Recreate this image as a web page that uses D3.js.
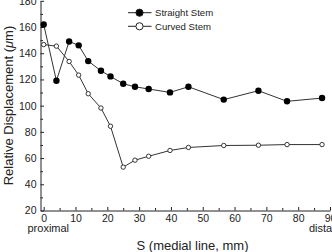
<!DOCTYPE html>
<html lang="en">
<head>
<meta charset="UTF-8">
<title>Relative displacement</title>
<script src="https://cdn.jsdelivr.net/npm/d3@7/dist/d3.min.js"></script>
<style>
    body { margin: 0; background: #fff; }
    svg { display: block; font-family: "Liberation Sans", Arial, sans-serif; }
    .axis path, .axis line { stroke: #222; }
    .axis text { font-size: 10.5px; fill: #222; }
</style>
</head>
<body>
<div id="chart"></div>
<script>
    "use strict";

    // medial line position (mm)
    var positions = [0, 4, 8, 11, 14, 18, 21, 25, 28.7, 33, 39.7, 45.5, 56.6, 67.5, 76.5, 87.5];
    var straightStem = [162, 119, 149, 146, 134, 126.6, 122.3, 116.7, 114.4, 112.7, 110.1, 114.4, 104.6, 111.4, 103.3, 105.8];
    var curvedStem = [146.6, 145.4, 133.7, 123.3, 109.1, 98.2, 84.3, 53.1, 58.4, 61.4, 65.8, 68.1, 69.6, 69.8, 70.3, 70.3];
    var seriesNames = ["Straight Stem", "Curved Stem"];
    var xTicks = [0, 10, 20, 30, 40, 50, 60, 70, 80, 90];
    var yTicks = [20, 40, 60, 80, 100, 120, 140, 160, 180];

    var width = 332, height = 252;

    var svg = d3.select('#chart')
        .append('svg')
        .attr('width', width)
        .attr('height', height);

    var x = d3.scaleLinear().domain([-1, 90]).range([40.5, 330]);
    var y = d3.scaleLinear().domain([20, 180]).range([210.5, 0.8]);

    // minor ticks first, then labelled ones
    svg.append('g')
        .attr('class', 'axis')
        .attr('transform', 'translate(0,210.5)')
        .call(d3.axisBottom(x).tickValues(d3.range(5, 90, 10)).tickSize(-2.5).tickSizeOuter(0).tickFormat(''))
        .select('.domain').remove();

    svg.append('g')
        .attr('class', 'axis')
        .attr('transform', 'translate(0,210.5)')
        .call(d3.axisBottom(x).tickValues(xTicks).tickSize(-3.5).tickSizeOuter(0).tickPadding(4));

    svg.append('g')
        .attr('class', 'axis')
        .attr('transform', 'translate(40.5,0)')
        .call(d3.axisLeft(y).tickValues(d3.range(30, 180, 20)).tickSize(-2.5).tickSizeOuter(0).tickFormat(''))
        .select('.domain').remove();

    svg.append('g')
        .attr('class', 'axis')
        .attr('transform', 'translate(40.5,0)')
        .call(d3.axisLeft(y).tickValues(yTicks).tickSize(-3.5).tickSizeOuter(0).tickPadding(4));

    var line = d3.line()
        .x(function(d) { return x(d[0]); })
        .y(function(d) { return y(d[1]); });

    var straightPts = d3.zip(positions, straightStem);
    var curvedPts = d3.zip(positions, curvedStem);

    svg.append('path')
        .datum(straightPts)
        .attr('d', line)
        .attr('fill', 'none')
        .attr('stroke', '#333')
        .attr('stroke-width', 1);

    svg.append('path')
        .datum(curvedPts)
        .attr('d', line)
        .attr('fill', 'none')
        .attr('stroke', '#333')
        .attr('stroke-width', 1);

    svg.selectAll('circle.straight')
        .data(straightPts)
        .enter()
        .append('circle')
        .attr('class', 'straight')
        .attr('cx', function(d) { return x(d[0]); })
        .attr('cy', function(d) { return y(d[1]); })
        .attr('r', 3.2)
        .attr('fill', '#000');

    svg.selectAll('circle.curved')
        .data(curvedPts)
        .enter()
        .append('circle')
        .attr('class', 'curved')
        .attr('cx', function(d) { return x(d[0]); })
        .attr('cy', function(d) { return y(d[1]); })
        .attr('r', 2.2)
        .attr('fill', '#fff')
        .attr('stroke', '#222')
        .attr('stroke-width', 0.9);

    // legend
    var legend = svg.append('g').attr('transform', 'translate(128,0)');
    seriesNames.forEach(function(name, i) {
        var ly = 12.7 + i * 13.6;
        legend.append('line')
            .attr('x1', 0).attr('x2', 23.5)
            .attr('y1', ly).attr('y2', ly)
            .attr('stroke', '#222');
        legend.append('circle')
            .attr('cx', 11.5).attr('cy', ly)
            .attr('r', 3.6)
            .attr('fill', i === 0 ? '#000' : '#fff')
            .attr('stroke', '#222');
        legend.append('text')
            .attr('x', 27).attr('y', ly)
            .attr('dy', '0.35em')
            .attr('font-size', '9.6px')
            .attr('fill', '#222')
            .text(name);
    });

    // axis titles
    svg.append('text')
        .attr('x', 192.5).attr('y', 250)
        .attr('text-anchor', 'middle')
        .attr('font-size', '13px')
        .attr('fill', '#222')
        .text('S (medial line, mm)');

    svg.append('text')
        .attr('x', 27.5).attr('y', 232)
        .attr('font-size', '11px')
        .attr('fill', '#222')
        .text('proximal');

    svg.append('text')
        .attr('x', 309).attr('y', 232)
        .attr('font-size', '11px')
        .attr('fill', '#222')
        .text('distal');

    var yTitle = svg.append('text')
        .attr('transform', 'translate(13,105.5) rotate(-90)')
        .attr('text-anchor', 'middle')
        .attr('font-size', '13px')
        .attr('fill', '#222');
    yTitle.append('tspan').text('Relative Displacement (');
    yTitle.append('tspan').attr('font-style', 'italic').text('\u03bc');
    yTitle.append('tspan').text('m)');
</script>
</body>
</html>
